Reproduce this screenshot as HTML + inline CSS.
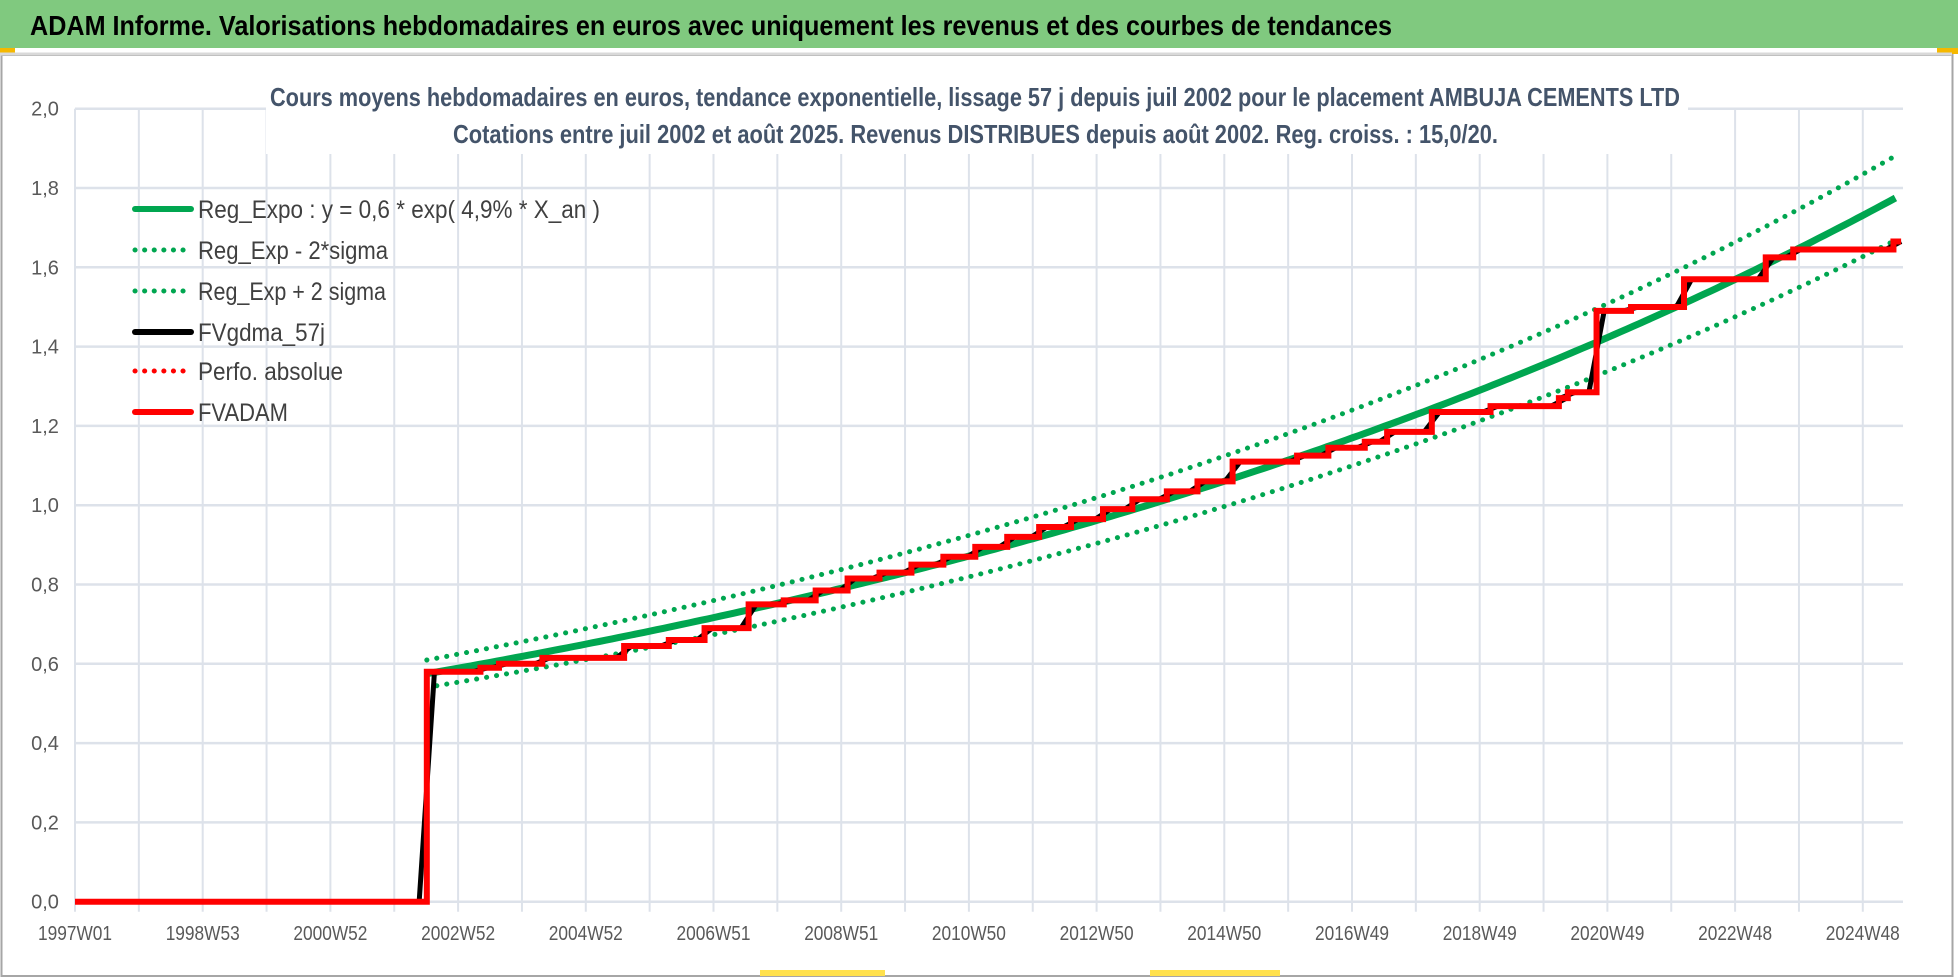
<!DOCTYPE html>
<html><head><meta charset="utf-8"><style>
body{margin:0;background:#fff;}
svg{display:block;font-family:"Liberation Sans",sans-serif;}
</style></head><body>
<svg id="chart" width="1958" height="978" viewBox="0 0 1958 978" xmlns="http://www.w3.org/2000/svg">
<rect x="0" y="0" width="1958" height="978" fill="#fff"/>
<rect x="0" y="0" width="1958" height="48" fill="#80c97f"/>
<rect x="0" y="48" width="15" height="6" fill="#f5b800"/>
<rect x="1937" y="48" width="21" height="6" fill="#f5b800"/>
<text x="30" y="35" font-size="28" font-weight="bold" fill="#000" textLength="1362" lengthAdjust="spacingAndGlyphs">ADAM Informe. Valorisations hebdomadaires en euros avec uniquement les revenus et des courbes de tendances</text>
<rect x="1.5" y="55" width="1951" height="921" fill="none" stroke="#a6a6a6" stroke-width="2"/>
<line x1="0" y1="54" x2="1952" y2="54" stroke="#d9d9d9" stroke-width="3"/>
<rect x="760" y="970" width="125" height="6" fill="#ffe14d"/>
<rect x="1150" y="970" width="130" height="6" fill="#ffe14d"/>
<g id="grid"></g>
<rect x="266" y="70" width="1422" height="84" fill="#fff"/>
<text x="270" y="106" font-size="26" font-weight="bold" fill="#44546a" textLength="1410" lengthAdjust="spacingAndGlyphs">Cours moyens hebdomadaires en euros, tendance exponentielle, lissage 57 j depuis juil 2002 pour le placement AMBUJA CEMENTS LTD</text>
<text x="453" y="143" font-size="26" font-weight="bold" fill="#44546a" textLength="1045" lengthAdjust="spacingAndGlyphs">Cotations entre juil 2002 et août 2025. Revenus DISTRIBUES depuis août 2002. Reg. croiss. : 15,0/20.</text>
<g id="axes"></g>
<g id="series"></g>
<g id="legend"></g>
</svg>
<script>
// ---- data ----
const yTicks = [0, 0.2, 0.4, 0.6, 0.8, 1.0, 1.2, 1.4, 1.6, 1.8, 2.0];
const yTickLabels = ["0,0","0,2","0,4","0,6","0,8","1,0","1,2","1,4","1,6","1,8","2,0"];
const xTickLabels = ["1997W01","1998W53","2000W52","2002W52","2004W52","2006W51","2008W51","2010W50","2012W50","2014W50","2016W49","2018W49","2020W49","2022W48","2024W48"];
const xTickYears = [1997,1999,2001,2003,2005,2007,2009,2011,2013,2015,2017,2019,2021,2023,2025];
const stepYears = [1997.0,2002.51,2003.35,2003.64,2004.32,2005.6,2006.3,2006.86,2007.55,2008.1,2008.6,2009.1,2009.6,2010.1,2010.6,2011.1,2011.6,2012.1,2012.6,2013.1,2013.56,2014.1,2014.58,2015.13,2016.14,2016.63,2017.2,2017.55,2018.25,2019.17,2020.24,2020.38,2020.83,2021.37,2022.2,2023.48,2023.91,2025.48];
const stepValues = [0,0.58,0.59,0.60,0.615,0.645,0.66,0.69,0.75,0.76,0.785,0.815,0.83,0.85,0.87,0.895,0.92,0.945,0.965,0.99,1.015,1.035,1.06,1.11,1.125,1.145,1.16,1.185,1.235,1.25,1.27,1.285,1.49,1.50,1.57,1.625,1.645,1.665];
const endYear = 2025.6;
const regStartYear = 2002.51;
const regBase = [0.575];
const regRate = [0.049];
const sigmaFactor = [0.06];

// ---- axes ----
const X0 = 75, PXY = 63.85, Y0 = 901.7, PXV = 396.5;
const xs = t => X0 + (t - 1997) * PXY;
const ys = v => Y0 - v * PXV;
const NS = "http://www.w3.org/2000/svg";
function mk(tag, attrs, parent){const e=document.createElementNS(NS,tag);for(const k in attrs)e.setAttribute(k,attrs[k]);parent.appendChild(e);return e;}
const grid=document.getElementById('grid'), axes=document.getElementById('axes'), series=document.getElementById('series'), legend=document.getElementById('legend');

for(let i=0;i<=28;i++){
  const x=xs(1997+i);
  const l=mk('line',{x1:x,y1:ys(2.0),x2:x,y2:Y0+10,stroke:'#dde2ea','stroke-width':2},grid);
  
  
}
yTicks.forEach((v,i)=>{
  const l=mk('line',{x1:X0,y1:ys(v),x2:1903,y2:ys(v),stroke:'#dde2ea','stroke-width':2.5},grid);
  
  
  const t=mk('text',{x:45,y:ys(v)+7,'font-size':20,fill:'#595959','text-anchor':'middle'},axes);
  t.textContent=yTickLabels[i];
  
  
});
xTickLabels.forEach((s,i)=>{
  const t=mk('text',{x:xs(xTickYears[i]),y:940,'font-size':20,fill:'#595959','text-anchor':'middle',textLength:74,lengthAdjust:'spacingAndGlyphs'},axes);
  t.textContent=s;
  
  
});

// ---- series ----
function regPts(f){const p=[];for(let t=regStartYear;t<=endYear+0.001;t+=0.1){p.push(xs(t).toFixed(1)+','+ys(regBase[0]*Math.exp(regRate[0]*(t-regStartYear))*f).toFixed(1));}return p.join(' ');}
const up=mk('polyline',{points:regPts(1+sigmaFactor[0]),fill:'none',stroke:'#00a650','stroke-width':5,'stroke-dasharray':'0.1 10','stroke-linecap':'round'},series);


const lo=mk('polyline',{points:regPts(1-sigmaFactor[0]),fill:'none',stroke:'#00a650','stroke-width':5,'stroke-dasharray':'0.1 10','stroke-linecap':'round'},series);


const rg=mk('polyline',{points:regPts(1),fill:'none',stroke:'#00a650','stroke-width':7},series);



// smoothed (black) and step (red)
let bp=[], rp=[];
for(let i=0;i<stepYears.length;i++){
  const t1 = i+1<stepYears.length ? stepYears[i+1] : endYear;
  rp.push(xs(stepYears[i])+','+ys(stepValues[i]));
  rp.push(xs(t1)+','+ys(stepValues[i]));
  if(i===0){bp.push(xs(stepYears[0])+','+ys(0));}
  else {bp.push(xs(stepYears[i]-0.12)+','+ys(stepValues[i-1]));bp.push(xs(stepYears[i]+0.12)+','+ys(stepValues[i]));}
}
bp.push(xs(endYear)+','+ys(stepValues[stepValues.length-1]));
const bl=mk('polyline',{points:bp.join(' '),fill:'none',stroke:'#000','stroke-width':5},series);


const rl=mk('polyline',{points:rp.join(' '),fill:'none',stroke:'#ff0000','stroke-width':6},series);



// ---- legend ----
const legItems=[
 ['Reg_Expo : y = 0,6 * exp( 4,9% *  X_an )','#00a650',false,402],
 ['Reg_Exp - 2*sigma','#00a650',true,190],
 ['Reg_Exp + 2 sigma','#00a650',true,188],
 ['FVgdma_57j','#000',false,127],
 ['Perfo. absolue','#ff0000',true,145],
 ['FVADAM','#ff0000',false,90]];
const legY=[209,250,291,332,371,412];
legItems.forEach((it,i)=>{
  const g=mk('g',{},legend);
  
  
  const a={x1:135,y1:legY[i],x2:191,y2:legY[i],stroke:it[1],'stroke-width':it[2]?5:6};
  if(it[2]){a['stroke-dasharray']='0.1 9.5';a['stroke-linecap']='round';}
  else a['stroke-linecap']='round';
  const ln=mk('line',a,g);
  
  
  const t=mk('text',{x:198,y:legY[i]+9,'font-size':25,fill:'#404040',textLength:it[3],lengthAdjust:'spacingAndGlyphs'},g);
  t.textContent=it[0];
  
  
});
</script>
</body></html>
